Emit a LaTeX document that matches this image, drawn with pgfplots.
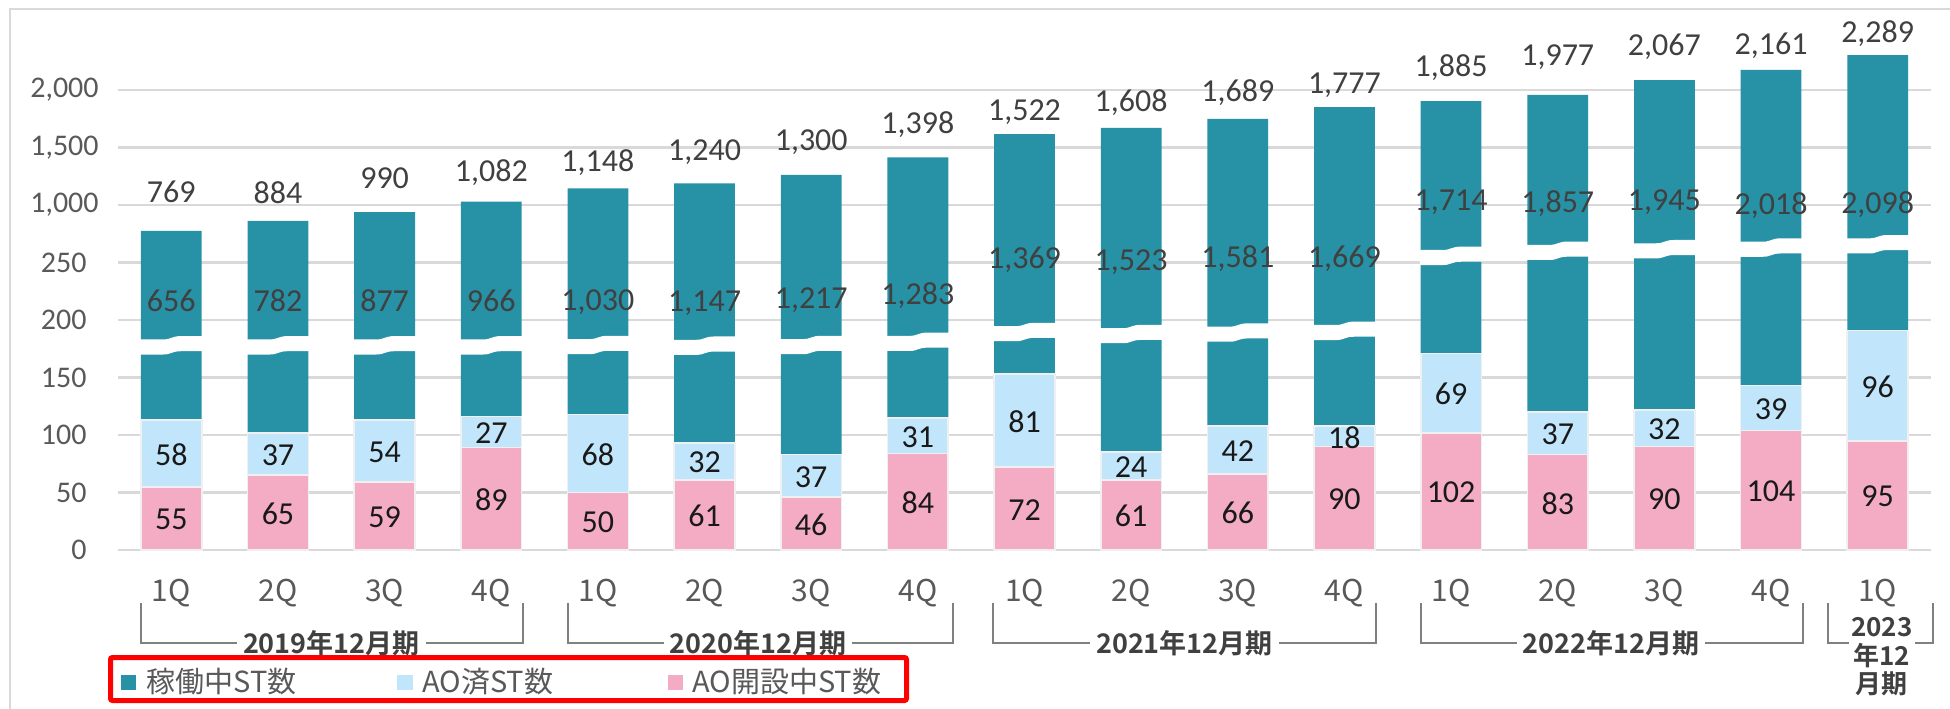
\documentclass[border=0pt]{standalone}
\usepackage{pgfplots}
\pgfplotsset{compat=1.18}
\usepackage{pgfplotstable}
\usepackage{fontspec}
\setmainfont{Carlito}
\newfontfamily\jp{Noto Sans CJK JP}
\newfontfamily\jpb{Noto Sans CJK JP Bold}
\definecolor{teal1}{RGB}{39,145,166}
\definecolor{lblue}{RGB}{193,230,252}
\definecolor{pink1}{RGB}{243,172,196}
\definecolor{gridgray}{RGB}{217,217,217}
\definecolor{edgegray}{RGB}{240,240,240}
\definecolor{ticktext}{RGB}{89,89,89}
\definecolor{labtext}{RGB}{64,64,64}
\definecolor{brgray}{RGB}{128,128,128}

\pgfdeclareplotmark{brk}{%
  \pgfpathmoveto{\pgfpoint{-15.6pt}{-4.6pt}}%
  \pgfpathlineto{\pgfpoint{-4pt}{-4.6pt}}%
  \pgfpathcurveto{\pgfpoint{0pt}{-4.6pt}}{\pgfpoint{0pt}{-2.95pt}}{\pgfpoint{5pt}{-2.95pt}}%
  \pgfpathlineto{\pgfpoint{15.6pt}{-2.95pt}}%
  \pgfpathlineto{\pgfpoint{15.6pt}{4.6pt}}%
  \pgfpathlineto{\pgfpoint{5pt}{4.6pt}}%
  \pgfpathcurveto{\pgfpoint{0pt}{4.6pt}}{\pgfpoint{0pt}{2.95pt}}{\pgfpoint{-4pt}{2.95pt}}%
  \pgfpathlineto{\pgfpoint{-15.6pt}{2.95pt}}%
  \pgfpathclose
  \pgfusepathqfill
}

% p = AO開設中ST数, b = AO済ST数, t = 稼働中ST数, tot = total
% top = drawn bar top on the broken axis (display units: 0-250 linear, 300 = 1,000, 350 = 1,500, 400 = 2,000)
% brk = break position, tly / totly = label positions (display units)
\pgfplotstableread{
x  p   b   t    tot   top    brk    tly    totly
0  55  58  656  769   277.4  178.0  217.0  311.3
1  65  37  782  884   286.1  178.0  217.0  310.4
2  59  54  877  990   293.9  178.0  216.5  323.5
3  89  27  966  1082  302.9  178.0  216.5  327.8
4  50  68  1030 1148  314.5  178.3  215.7  336.5
5  61  32  1147 1240  318.9  177.7  214.8  346.1
6  46  37  1217 1300  326.1  178.3  217.4  354.8
7  84  31  1283 1398  341.5  181.1  220.9  369.6
8  72  81  1369 1522  361.7  189.6  252.2  380.9
9  61  24  1523 1608  367.0  187.8  250.4  388.7
10 66  42  1581 1689  374.8  189.1  253.0  397.4
11 90  18  1669 1777  385.2  190.6  253.0  404.3
12 102 69  1714 1885  390.4  255.8  302.6  419.1
13 83  37  1857 1977  395.7  260.2  300.9  428.7
14 90  32  1945 2067  408.7  261.6  302.6  437.4
15 104 39  2018 2161  417.4  263.0  299.1  438.3
16 95  96  2098 2289  430.4  265.9  300.0  448.7
}\data

\tikzset{bracket/.style={brgray, line width=1pt},
  yearlab/.style={fill=white, inner xsep=3pt, inner ysep=1pt, text=labtext, font=\jpb\fontsize{13.5}{16}\selectfont}}

\begin{document}
\begin{tikzpicture}
\useasboundingbox (-59pt,-79pt) rectangle (916pt,275pt);
% outer frame
\draw[gridgray, line width=1.2pt] (-54pt,-80pt) -- (-54pt,270.5pt) -- (917pt,270.5pt);

\begin{axis}[
  at={(0pt,0pt)}, anchor=south west,
  scale only axis, width=906.5pt, height=264.5pt,
  xmin=-0.5, xmax=16.5, ymin=0, ymax=460,
  clip=false,
  axis line style={draw=none},
  tick style={draw=none}, major tick length=0pt,
  ymajorgrids, grid style={draw=gridgray, line width=1.2pt},
  ytick={0,50,100,150,200,250,300,350,400},
  yticklabels={0,50,100,150,200,250,{1,000\hspace*{-6pt}},{1,500\hspace*{-6pt}},{2,000\hspace*{-6pt}}},
  yticklabel style={font=\fontsize{15}{18}\selectfont, text=ticktext, inner sep=0pt, anchor=east, xshift=-15.5pt},
  xtick={0,1,...,16},
  xticklabels={1Q,2Q,3Q,4Q,1Q,2Q,3Q,4Q,1Q,2Q,3Q,4Q,1Q,2Q,3Q,4Q,1Q},
  xticklabel style={font=\jp\fontsize{15}{18}\selectfont, text=ticktext, inner sep=0pt, anchor=center, yshift=-21.5pt},
  nodes near coords align=center,
]
% bars
\addplot[ybar, bar width=0.57, bar shift=0pt, fill=teal1, draw=none]
  table[x=x, y=top] {\data};
\addplot[ybar, bar width=0.57, bar shift=0pt, fill=lblue, draw=edgegray, line width=0.8pt]
  table[x=x, y expr=\thisrow{p}+\thisrow{b}] {\data};
\addplot[ybar, bar width=0.57, bar shift=0pt, fill=pink1, draw=edgegray, line width=0.8pt]
  table[x=x, y=p] {\data};
% axis break marks
\addplot[only marks, mark=brk, mark options={fill=white, draw=none}]
  table[x=x, y=brk] {\data};
% labels
\addplot[only marks, mark=*, mark size=0pt, mark options={draw=none, fill=none},
  point meta=explicit,
  nodes near coords={\pgfmathprintnumber[assume math mode=true]{\pgfplotspointmeta}},
  every node near coord/.append style={anchor=center, font=\fontsize{16}{19}\selectfont, text=black!90, inner sep=0pt}]
  table[x=x, y expr=\thisrow{p}/2-1, meta=p] {\data};
\addplot[only marks, mark=*, mark size=0pt, mark options={draw=none, fill=none},
  point meta=explicit,
  nodes near coords={\pgfmathprintnumber[assume math mode=true]{\pgfplotspointmeta}},
  every node near coord/.append style={anchor=center, font=\fontsize{16}{19}\selectfont, text=black!90, inner sep=0pt}]
  table[x=x, y expr=\thisrow{p}+\thisrow{b}/2-1, meta=b] {\data};
\addplot[only marks, mark=*, mark size=0pt, mark options={draw=none, fill=none},
  point meta=explicit,
  nodes near coords={\pgfmathprintnumber[assume math mode=true, 1000 sep={,}]{\pgfplotspointmeta}},
  every node near coord/.append style={anchor=center, font=\fontsize{16}{19}\selectfont, text=labtext, inner sep=0pt}]
  table[x=x, y=tly, meta=t] {\data};
\addplot[only marks, mark=*, mark size=0pt, mark options={draw=none, fill=none},
  point meta=explicit,
  nodes near coords={\pgfmathprintnumber[assume math mode=true, 1000 sep={,}]{\pgfplotspointmeta}},
  every node near coord/.append style={anchor=center, font=\fontsize{16}{19}\selectfont, text=labtext, inner sep=0pt}]
  table[x=x, y=totly, meta=tot] {\data};

% group brackets
\draw[bracket] ([yshift=-26.5pt]axis cs:-0.285,0) -- ([yshift=-46.5pt]axis cs:-0.285,0) -- ([yshift=-46.5pt]axis cs:3.3,0) -- ([yshift=-26.5pt]axis cs:3.3,0);
\draw[bracket] ([yshift=-26.5pt]axis cs:3.72,0) -- ([yshift=-46.5pt]axis cs:3.72,0) -- ([yshift=-46.5pt]axis cs:7.33,0) -- ([yshift=-26.5pt]axis cs:7.33,0);
\draw[bracket] ([yshift=-26.5pt]axis cs:7.7,0) -- ([yshift=-46.5pt]axis cs:7.7,0) -- ([yshift=-46.5pt]axis cs:11.3,0) -- ([yshift=-26.5pt]axis cs:11.3,0);
\draw[bracket] ([yshift=-26.5pt]axis cs:11.72,0) -- ([yshift=-46.5pt]axis cs:11.72,0) -- ([yshift=-46.5pt]axis cs:15.3,0) -- ([yshift=-26.5pt]axis cs:15.3,0);
\draw[bracket] ([yshift=-26.5pt]axis cs:15.53,0) -- ([yshift=-46.5pt]axis cs:15.53,0) -- ([yshift=-46.5pt]axis cs:16.52,0) -- ([yshift=-26.5pt]axis cs:16.52,0);
\node[yearlab] at ([yshift=-46.5pt]axis cs:1.5,0) {2019年12月期};
\node[yearlab] at ([yshift=-46.5pt]axis cs:5.5,0) {2020年12月期};
\node[yearlab] at ([yshift=-46.5pt]axis cs:9.5,0) {2021年12月期};
\node[yearlab] at ([yshift=-46.5pt]axis cs:13.5,0) {2022年12月期};
\node[fill=white, inner xsep=1pt, inner ysep=1pt, align=center, text=labtext, font=\jpb\fontsize{13}{14.25}\selectfont]
  at ([yshift=-53.5pt]axis cs:16.04,0) {2023\\年12\\月期};
\end{axis}

% legend
\draw[red, line width=2.5pt, rounded corners=1pt] (-3.75pt,-53.75pt) rectangle (394.25pt,-75.25pt);
\fill[teal1] (1.5pt,-62.25pt) rectangle (9pt,-69.75pt);
\fill[lblue] (139.5pt,-62.25pt) rectangle (147.5pt,-69.75pt);
\fill[pink1] (274.75pt,-62.25pt) rectangle (282.5pt,-69.75pt);
\node[anchor=west, inner sep=0pt, text=ticktext, font=\jp\fontsize{14.5}{17}\selectfont] at (14pt,-66pt) {稼働中ST数};
\node[anchor=west, inner sep=0pt, text=ticktext, font=\jp\fontsize{14.5}{17}\selectfont] at (152pt,-66pt) {AO済ST数};
\node[anchor=west, inner sep=0pt, text=ticktext, font=\jp\fontsize{14.5}{17}\selectfont] at (287pt,-66pt) {AO開設中ST数};
\end{tikzpicture}
\end{document}
